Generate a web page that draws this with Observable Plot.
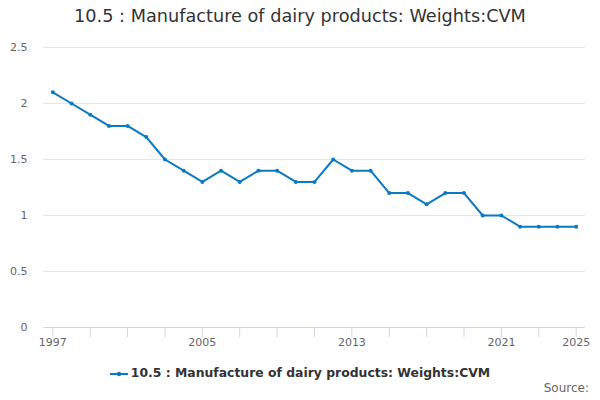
<!DOCTYPE html>
<html><head><meta charset="utf-8">
<script src="https://cdn.jsdelivr.net/npm/d3@7"></script>
<script src="https://cdn.jsdelivr.net/npm/@observablehq/plot@0.6"></script>
<style>
body{margin:0;width:600px;height:400px;font-family:"DejaVu Sans",sans-serif;background:#fff;position:relative;overflow:hidden}
#title{position:absolute;top:6px;left:0;width:600px;text-align:center;font-size:17.7px;color:#333}
#chart{position:absolute;top:36px;left:0}
#legend{position:absolute;top:365px;left:0;width:600px;text-align:center;font-size:12.4px;font-weight:bold;color:#333}
#legend svg{vertical-align:middle;margin-right:3px}
#source{position:absolute;top:381px;right:11px;font-size:12px;color:#666}
</style></head><body>
<div id="title">10.5 : Manufacture of dairy products: Weights:CVM</div>
<div id="chart"></div>
<div id="legend"><svg width="18" height="10"><line x1="0" y1="5" x2="18" y2="5" stroke="#0a7ac3" stroke-width="2"/><circle cx="9" cy="5" r="2.2" fill="#0a7ac3"/></svg>10.5 : Manufacture of dairy products: Weights:CVM</div>
<div id="source">Source:</div>
<script>
const years = [1997,1998,1999,2000,2001,2002,2003,2004,2005,2006,2007,2008,2009,2010,2011,2012,2013,2014,2015,2016,2017,2018,2019,2020,2021,2022,2023,2024,2025];
const values = [2.1,2.0,1.9,1.8,1.8,1.7,1.5,1.4,1.3,1.4,1.3,1.4,1.4,1.3,1.3,1.5,1.4,1.4,1.2,1.2,1.1,1.2,1.2,1.0,1.0,0.9,0.9,0.9,0.9];
const yTicks = [0,0.5,1,1.5,2,2.5];
const xTicks = d3.range(1997,2026,2);
const xLabels = [1997,2005,2013,2021,2025];
const data = years.map((y,i)=>({year:y,value:values[i]}));
const color = "#0a7ac3";
const chart = Plot.plot({
  width:600, height:320,
  marginLeft:43, marginRight:15, marginTop:11, marginBottom:29,
  style:{fontFamily:"DejaVu Sans, sans-serif", fontSize:"11px", color:"#666", overflow:"visible"},
  x:{domain:[1996.5,2025.5], axis:null},
  y:{domain:[0,2.5], axis:null},
  marks:[
    Plot.ruleY(yTicks.filter(d=>d>0), {stroke:"#e6e6e6", strokeWidth:1}),
    Plot.ruleY([0], {stroke:"#ccd6eb", strokeWidth:1}),
    Plot.axisY(yTicks, {tickSize:0, tickPadding:16, label:null, tickFormat:d=>String(d), fill:"#666", fontSize:11}),
    Plot.axisX(xTicks, {tickSize:10, stroke:"#ccd6eb", strokeOpacity:1, tickPadding:1, label:null, tickFormat:d=>xLabels.includes(d)?String(d):"", fill:"#666", fontSize:11}),
    Plot.line(data, {x:"year", y:"value", stroke:color, strokeWidth:2}),
    Plot.dot(data, {x:"year", y:"value", fill:color, r:2})
  ]
});
document.getElementById("chart").appendChild(chart);
</script>
</body></html>
